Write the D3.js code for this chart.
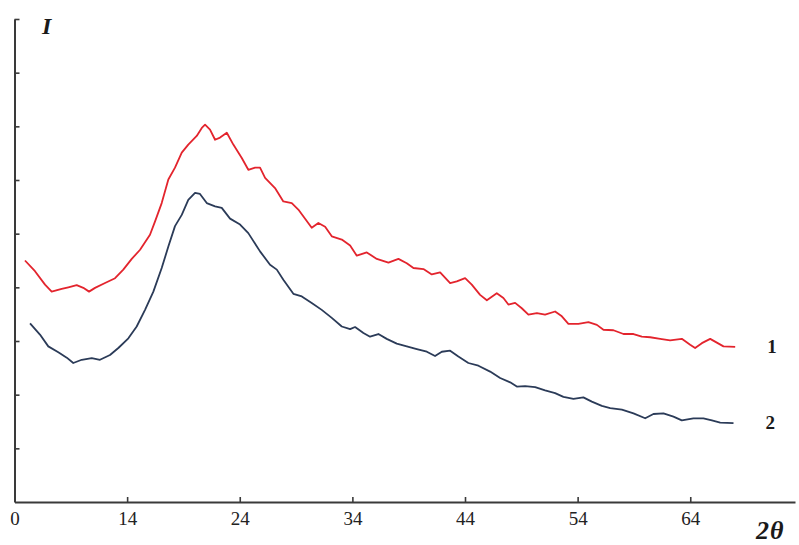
<!DOCTYPE html>
<html>
<head>
<meta charset="utf-8">
<script src="https://cdn.jsdelivr.net/npm/d3@7"></script>
<style>
  html, body { margin: 0; padding: 0; background: #fff; }
  svg { display: block; }
</style>
</head>
<body>
<svg id="chart" width="799" height="545"></svg>
<script>
// Diffraction scans: 2θ (deg) against intensity (arbitrary units)
const twoTheta1 = [4.93, 5.82, 6.71, 7.30, 8.19, 8.78, 9.52, 10.11, 10.62, 11.15, 12.04, 12.93, 13.66, 14.41, 15.15, 16.03, 16.48, 17.07, 17.66, 18.25, 18.85, 19.43, 20.18, 20.63, 20.92, 21.36, 21.81, 22.25, 22.85, 23.43, 24.18, 24.76, 25.36, 25.80, 26.25, 27.13, 27.87, 28.62, 29.20, 30.39, 30.98, 31.58, 32.17, 33.06, 33.80, 34.39, 35.28, 36.17, 37.20, 38.09, 38.83, 39.42, 40.31, 41.05, 41.79, 42.68, 43.27, 44.01, 44.60, 45.34, 45.94, 46.82, 47.41, 47.85, 48.45, 49.04, 49.63, 50.38, 51.11, 52.00, 52.60, 53.18, 54.07, 54.96, 55.71, 56.29, 57.18, 58.07, 58.96, 59.70, 60.44, 61.33, 62.21, 63.25, 63.99, 64.43, 65.03, 65.77, 66.36, 66.95, 67.99];
const intensity1 = [4.50, 4.30, 4.05, 3.92, 3.97, 4.00, 4.04, 3.99, 3.92, 3.99, 4.08, 4.17, 4.33, 4.53, 4.70, 4.98, 5.23, 5.57, 6.01, 6.23, 6.51, 6.66, 6.82, 6.97, 7.03, 6.94, 6.75, 6.79, 6.88, 6.66, 6.41, 6.19, 6.23, 6.23, 6.04, 5.85, 5.60, 5.57, 5.45, 5.11, 5.20, 5.13, 4.95, 4.89, 4.78, 4.59, 4.65, 4.53, 4.46, 4.53, 4.45, 4.36, 4.34, 4.24, 4.28, 4.08, 4.11, 4.17, 4.05, 3.86, 3.76, 3.89, 3.80, 3.68, 3.71, 3.61, 3.49, 3.52, 3.49, 3.55, 3.46, 3.32, 3.32, 3.35, 3.30, 3.21, 3.20, 3.13, 3.13, 3.08, 3.07, 3.04, 3.01, 3.04, 2.93, 2.87, 2.96, 3.04, 2.97, 2.90, 2.89];

const twoTheta2 = [5.38, 6.26, 7.00, 7.89, 8.64, 9.22, 9.97, 10.86, 11.59, 12.48, 13.22, 14.11, 14.85, 15.59, 16.33, 17.07, 17.66, 18.25, 18.85, 19.43, 20.03, 20.47, 21.07, 21.81, 22.40, 23.14, 24.03, 24.76, 25.80, 26.69, 27.29, 27.87, 28.76, 29.51, 30.39, 31.28, 32.17, 33.06, 33.80, 34.24, 34.98, 35.57, 36.31, 37.05, 37.94, 38.83, 39.72, 40.61, 41.34, 41.94, 42.68, 43.41, 44.30, 45.19, 46.23, 47.12, 48.01, 48.60, 49.34, 50.23, 51.11, 52.00, 52.74, 53.63, 54.51, 55.26, 56.15, 56.89, 57.93, 58.96, 60.00, 60.73, 61.62, 62.51, 63.25, 64.28, 65.17, 65.92, 66.66, 67.84];
const intensity2 = [3.33, 3.12, 2.90, 2.79, 2.69, 2.59, 2.65, 2.68, 2.65, 2.74, 2.87, 3.05, 3.27, 3.58, 3.92, 4.36, 4.76, 5.14, 5.35, 5.63, 5.76, 5.74, 5.57, 5.51, 5.48, 5.28, 5.17, 5.01, 4.67, 4.42, 4.33, 4.14, 3.88, 3.83, 3.71, 3.58, 3.43, 3.27, 3.22, 3.26, 3.15, 3.08, 3.13, 3.04, 2.95, 2.90, 2.85, 2.80, 2.72, 2.80, 2.82, 2.71, 2.59, 2.54, 2.43, 2.31, 2.23, 2.15, 2.16, 2.14, 2.08, 2.03, 1.96, 1.92, 1.95, 1.87, 1.79, 1.75, 1.72, 1.65, 1.56, 1.64, 1.65, 1.59, 1.52, 1.56, 1.56, 1.52, 1.48, 1.47];

const seriesNames = ["1", "2"];
const xTickValues = [4, 14, 24, 34, 44, 54, 64];
const xTickLabels = ["0", "14", "24", "34", "44", "54", "64"];
const yTickValues = [1, 2, 3, 4, 5, 6, 7, 8, 9];

const serif = "Liberation Serif, Times New Roman, serif";
const svg = d3.select("#chart");

const x = d3.scaleLinear().domain([4, 73.3]).range([14.5, 795]);
const y = d3.scaleLinear().domain([0, 9]).range([502, 19]);

// x axis: ticks point up into the plot, labels below
const xAxis = svg.append("g")
  .attr("transform", `translate(0,${y(0)})`)
  .call(d3.axisBottom(x)
    .tickValues(xTickValues)
    .tickFormat((d, i) => xTickLabels[i])
    .tickSizeInner(-5)
    .tickSizeOuter(0)
    .tickPadding(10));
xAxis.select(".domain").attr("stroke", "#3a3a3a").attr("stroke-width", 2);
xAxis.selectAll(".tick line").attr("stroke", "#3a3a3a").attr("stroke-width", 1.6);
xAxis.selectAll(".tick").filter(d => d === 4).select("line").remove();
xAxis.selectAll(".tick text")
  .attr("font-family", serif)
  .attr("font-size", 19)
  .attr("fill", "#222");

// y axis: unlabelled ticks pointing right
const yAxis = svg.append("g")
  .attr("transform", `translate(${x(4)},0)`)
  .call(d3.axisRight(y)
    .tickValues(yTickValues)
    .tickFormat("")
    .tickSizeInner(5)
    .tickSizeOuter(0));
yAxis.select(".domain").attr("stroke", "#3a3a3a").attr("stroke-width", 2);
yAxis.selectAll(".tick line").attr("stroke", "#3a3a3a").attr("stroke-width", 1.6);

const line = d3.line().x(d => x(d[0])).y(d => y(d[1]));

const series = [
  { name: seriesNames[0], xs: twoTheta1, ys: intensity1, color: "#e3242d" },
  { name: seriesNames[1], xs: twoTheta2, ys: intensity2, color: "#2b3b58" }
];

series.forEach(s => {
  const pts = s.xs.map((v, i) => [v, s.ys[i]]);
  svg.append("path")
    .datum(pts)
    .attr("fill", "none")
    .attr("stroke", s.color)
    .attr("stroke-width", 1.8)
    .attr("stroke-linejoin", "round")
    .attr("d", line);
  const last = pts[pts.length - 1];
  svg.append("text")
    .attr("x", x(last[0]) + 32)
    .attr("y", y(last[1]) + 6)
    .attr("font-family", serif)
    .attr("font-weight", "bold")
    .attr("font-size", 19)
    .attr("fill", "#1a1a1a")
    .text(s.name);
});

// axis titles
svg.append("text")
  .attr("x", 42).attr("y", 34)
  .attr("font-family", serif)
  .attr("font-weight", "bold").attr("font-style", "italic")
  .attr("font-size", 24).attr("fill", "#1a1a1a")
  .text("I");

svg.append("text")
  .attr("x", 756).attr("y", 539)
  .attr("font-family", serif)
  .attr("font-weight", "bold").attr("font-style", "italic")
  .attr("font-size", 26).attr("letter-spacing", 1).attr("fill", "#1a1a1a")
  .text("2θ");
</script>
</body>
</html>
